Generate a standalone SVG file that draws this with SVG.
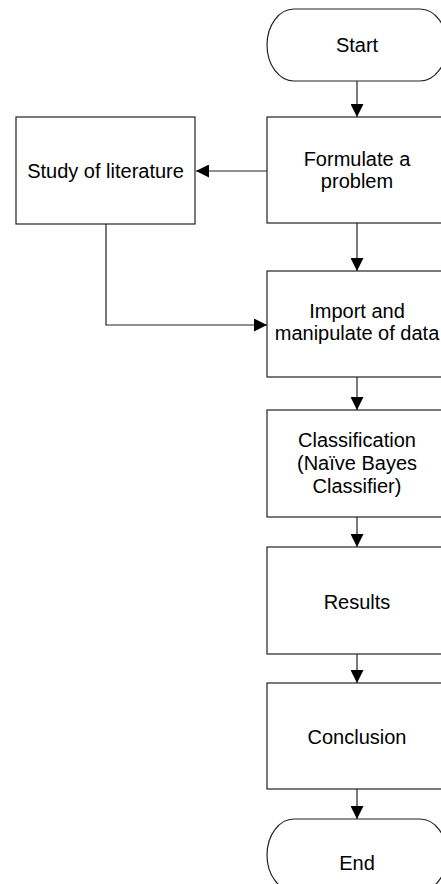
<svg xmlns="http://www.w3.org/2000/svg" width="441" height="884" viewBox="0 0 441 884">
<defs>
<marker id="ah" markerWidth="13" markerHeight="13" refX="13" refY="6.5" orient="auto" markerUnits="userSpaceOnUse">
<path d="M0,0 L13,6.5 L0,13 Z" fill="#000"/>
</marker>
<style>
.box{fill:#fff;stroke:#222;stroke-width:1.2}
.t{font-family:"Liberation Sans",Arial,sans-serif;font-size:20px;fill:#000;text-anchor:middle}
.c{fill:none;stroke:#222;stroke-width:1.2}
</style>
</defs>
<rect width="441" height="884" fill="#fff"/>
<g id="connectors">
<line class="c" x1="357" y1="81" x2="357" y2="117" marker-end="url(#ah)"/>
<line class="c" x1="267" y1="171" x2="196" y2="171" marker-end="url(#ah)"/>
<line class="c" x1="357" y1="223" x2="357" y2="271" marker-end="url(#ah)"/>
<polyline class="c" points="106,224 106,325 267,325" marker-end="url(#ah)"/>
<line class="c" x1="357" y1="377" x2="357" y2="410" marker-end="url(#ah)"/>
<line class="c" x1="357" y1="517" x2="357" y2="547" marker-end="url(#ah)"/>
<line class="c" x1="357" y1="654" x2="357" y2="683" marker-end="url(#ah)"/>
<line class="c" x1="357" y1="789" x2="357" y2="819" marker-end="url(#ah)"/>
</g>
<g id="start">
<path class="box" d="M294,9 H420 A27,36 0 0 1 420,81 H294 A27,36 0 0 1 294,9 Z"/>
<text class="t" x="357" y="52">Start</text>
</g>
<g id="formulate">
<rect class="box" x="267" y="117" width="180" height="106"/>
<text class="t" x="357" y="166">Formulate a</text>
<text class="t" x="357" y="188">problem</text>
</g>
<g id="study">
<rect class="box" x="16" y="117" width="179" height="107"/>
<text class="t" x="105.5" y="178">Study of literature</text>
</g>
<g id="import">
<rect class="box" x="267" y="271" width="180" height="106"/>
<text class="t" x="357" y="318">Import and</text>
<text class="t" x="357" y="340">manipulate of data</text>
</g>
<g id="classification">
<rect class="box" x="267" y="410" width="180" height="107"/>
<text class="t" x="357" y="447">Classification</text>
<text class="t" x="357" y="470">(Naïve Bayes</text>
<text class="t" x="357" y="493">Classifier)</text>
</g>
<g id="results">
<rect class="box" x="267" y="547" width="180" height="107"/>
<text class="t" x="357" y="609">Results</text>
</g>
<g id="conclusion">
<rect class="box" x="267" y="683" width="180" height="106"/>
<text class="t" x="357" y="744">Conclusion</text>
</g>
<g id="end">
<path class="box" d="M294,819 H420 A27,36 0 0 1 420,891 H294 A27,36 0 0 1 294,819 Z"/>
<text class="t" x="357" y="870">End</text>
</g>
</svg>
